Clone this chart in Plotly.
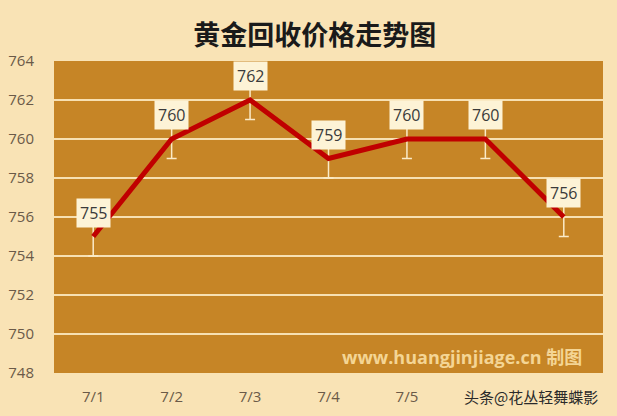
import plotly.graph_objects as go

# data
dates = ["7/1", "7/2", "7/3", "7/4", "7/5", "7/6", "7/7"]
prices = [755, 760, 762, 759, 760, 760, 756]
err = [1, 1, 1, 1, 1, 1, 1]
y_ticks = [748, 750, 752, 754, 756, 758, 760, 762, 764]
shown_dates = dates[:5]  # 7/6 and 7/7 sit under the watermark in the original

page_bg = "#F9E3B5"
plot_bg = "#C68526"
grid_col = "#F7E0B2"

fig = go.Figure()

fig.add_trace(go.Scatter(
    x=dates, y=prices,
    mode="lines",
    line=dict(color="#C00000", width=5),
    error_y=dict(type="data", array=err, visible=True,
                 color="#FBEBC8", thickness=1.5, width=5),
    showlegend=False,
    hoverinfo="x+y",
))

# value labels in little boxes
for d, p in zip(dates, prices):
    fig.add_annotation(
        x=d, y=p, text=str(p), showarrow=False, yshift=24,
        font=dict(family="Open Sans, Arial", size=16, color="#3a3a3a"),
        bgcolor="#FDF3D6", borderpad=3,
    )

fig.update_layout(
    width=617, height=416,
    margin=dict(l=54, r=14, t=61, b=43),
    paper_bgcolor=page_bg,
    plot_bgcolor=plot_bg,
    title=dict(text="<b>黄金回收价格走势图</b>", x=0.51, xanchor="center",
               y=0.915, yanchor="middle", automargin=False,
               font=dict(family="Noto Sans CJK SC", size=27, color="#1a1a1a")),
    xaxis=dict(range=[-0.5, 6.5], showgrid=False, zeroline=False, showline=False,
               tickvals=shown_dates, automargin=False,
               ticks="outside", ticklen=10, tickcolor="rgba(0,0,0,0)",
               tickfont=dict(family="Open Sans, Arial", size=15, color="#6b5a48")),
    yaxis=dict(range=[748, 764], tickvals=y_ticks, showgrid=True, automargin=False,
               gridcolor=grid_col, gridwidth=2, zeroline=False, showline=False,
               ticks="outside", ticklen=16, tickcolor="rgba(0,0,0,0)",
               tickfont=dict(family="Open Sans, Arial", size=15, color="#6b5a48")),
)

# watermarks
fig.add_annotation(
    xref="paper", yref="paper", x=0.965, y=0.05, xanchor="right", yanchor="middle",
    text="<b>www.huangjinjiage.cn 制图</b>", showarrow=False,
    font=dict(family="Open Sans, Noto Sans CJK SC", size=18, color="rgba(253,228,170,0.85)"),
)
fig.add_annotation(
    xref="paper", yref="paper", x=1.0, y=-0.075, xanchor="right", yanchor="middle",
    text="头条@花丛轻舞蝶影", showarrow=False, bgcolor=page_bg, borderpad=4,
    font=dict(family="Noto Sans CJK SC", size=15, color="#2a2a2a"),
)

fig.write_html("out.html", config={"displayModeBar": False},
               post_script="document.body.style.margin='0';")
